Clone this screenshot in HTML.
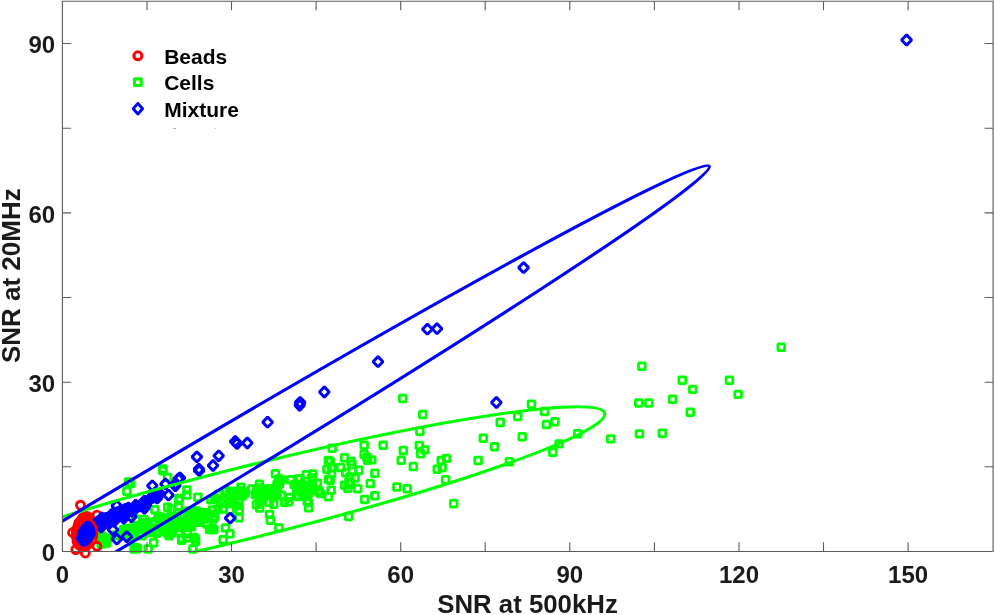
<!DOCTYPE html><html><head><meta charset="utf-8"><title>SNR scatter</title><style>html,body{margin:0;padding:0;background:#fff}svg{display:block}</style></head><body><svg width="994" height="615" viewBox="0 0 994 615">
<rect width="994" height="615" fill="#fff"/>
<defs><clipPath id="c"><rect x="62.4" y="1.2" width="930.9" height="550.3"/></clipPath></defs>
<g>
<g fill="none" stroke="#00ff00" stroke-width="2.75" stroke-linejoin="bevel">
<rect x="777.9" y="343.9" width="6.7" height="6.7"/>
<rect x="638.5" y="362.9" width="6.7" height="6.7"/>
<rect x="678.9" y="376.8" width="6.7" height="6.7"/>
<rect x="689.4" y="386.0" width="6.7" height="6.7"/>
<rect x="726.1" y="376.8" width="6.7" height="6.7"/>
<rect x="734.8" y="391.0" width="6.7" height="6.7"/>
<rect x="669.2" y="395.8" width="6.7" height="6.7"/>
<rect x="635.4" y="399.6" width="6.7" height="6.7"/>
<rect x="645.5" y="399.6" width="6.7" height="6.7"/>
<rect x="686.9" y="408.9" width="6.7" height="6.7"/>
<rect x="636.1" y="430.5" width="6.7" height="6.7"/>
<rect x="659.0" y="429.8" width="6.7" height="6.7"/>
<rect x="607.4" y="435.5" width="6.7" height="6.7"/>
<rect x="528.1" y="400.8" width="6.7" height="6.7"/>
<rect x="541.2" y="408.2" width="6.7" height="6.7"/>
<rect x="514.4" y="413.2" width="6.7" height="6.7"/>
<rect x="496.9" y="419.1" width="6.7" height="6.7"/>
<rect x="551.6" y="418.4" width="6.7" height="6.7"/>
<rect x="543.2" y="421.2" width="6.7" height="6.7"/>
<rect x="518.9" y="433.4" width="6.7" height="6.7"/>
<rect x="480.0" y="434.8" width="6.7" height="6.7"/>
<rect x="491.2" y="443.3" width="6.7" height="6.7"/>
<rect x="574.4" y="430.3" width="6.7" height="6.7"/>
<rect x="555.8" y="440.5" width="6.7" height="6.7"/>
<rect x="549.5" y="448.8" width="6.7" height="6.7"/>
<rect x="474.8" y="457.1" width="6.7" height="6.7"/>
<rect x="506.0" y="458.4" width="6.7" height="6.7"/>
<rect x="443.1" y="455.0" width="6.7" height="6.7"/>
<rect x="437.9" y="457.1" width="6.7" height="6.7"/>
<rect x="438.8" y="464.1" width="6.7" height="6.7"/>
<rect x="442.3" y="476.4" width="6.7" height="6.7"/>
<rect x="450.4" y="500.3" width="6.7" height="6.7"/>
<rect x="399.4" y="395.1" width="6.7" height="6.7"/>
<rect x="419.4" y="411.2" width="6.7" height="6.7"/>
<rect x="416.5" y="427.8" width="6.7" height="6.7"/>
<rect x="328.9" y="444.9" width="6.7" height="6.7"/>
<rect x="360.8" y="441.8" width="6.7" height="6.7"/>
<rect x="379.8" y="441.8" width="6.7" height="6.7"/>
<rect x="400.0" y="447.2" width="6.7" height="6.7"/>
<rect x="416.0" y="442.0" width="6.7" height="6.7"/>
<rect x="421.4" y="446.5" width="6.7" height="6.7"/>
<rect x="417.3" y="450.3" width="6.7" height="6.7"/>
<rect x="397.9" y="456.9" width="6.7" height="6.7"/>
<rect x="410.0" y="463.2" width="6.7" height="6.7"/>
<rect x="433.9" y="465.9" width="6.7" height="6.7"/>
<rect x="393.6" y="483.6" width="6.7" height="6.7"/>
<rect x="403.8" y="485.4" width="6.7" height="6.7"/>
<rect x="371.5" y="469.8" width="6.7" height="6.7"/>
<rect x="366.9" y="480.2" width="6.7" height="6.7"/>
<rect x="371.5" y="492.3" width="6.7" height="6.7"/>
<rect x="361.3" y="496.1" width="6.7" height="6.7"/>
<rect x="345.3" y="513.1" width="6.7" height="6.7"/>
<rect x="360.8" y="451.1" width="6.7" height="6.7"/>
<rect x="363.6" y="454.2" width="6.7" height="6.7"/>
<rect x="368.4" y="456.5" width="6.7" height="6.7"/>
<rect x="364.2" y="456.9" width="6.7" height="6.7"/>
<rect x="341.3" y="454.4" width="6.7" height="6.7"/>
<rect x="347.6" y="458.0" width="6.7" height="6.7"/>
<rect x="348.6" y="461.1" width="6.7" height="6.7"/>
<rect x="355.5" y="466.8" width="6.7" height="6.7"/>
<rect x="326.8" y="458.4" width="6.7" height="6.7"/>
<rect x="323.6" y="465.9" width="6.7" height="6.7"/>
<rect x="328.2" y="464.2" width="6.7" height="6.7"/>
<rect x="337.2" y="464.2" width="6.7" height="6.7"/>
<rect x="309.5" y="470.5" width="6.7" height="6.7"/>
<rect x="328.2" y="470.5" width="6.7" height="6.7"/>
<rect x="326.8" y="476.8" width="6.7" height="6.7"/>
<rect x="342.4" y="469.4" width="6.7" height="6.7"/>
<rect x="346.5" y="473.6" width="6.7" height="6.7"/>
<rect x="351.8" y="474.6" width="6.7" height="6.7"/>
<rect x="345.5" y="478.8" width="6.7" height="6.7"/>
<rect x="341.3" y="481.9" width="6.7" height="6.7"/>
<rect x="347.6" y="480.9" width="6.7" height="6.7"/>
<rect x="344.5" y="485.0" width="6.7" height="6.7"/>
<rect x="354.4" y="485.4" width="6.7" height="6.7"/>
<rect x="327.8" y="486.8" width="6.7" height="6.7"/>
<rect x="325.1" y="493.4" width="6.7" height="6.7"/>
<rect x="309.5" y="479.8" width="6.7" height="6.7"/>
<rect x="315.3" y="487.1" width="6.7" height="6.7"/>
<rect x="317.0" y="490.2" width="6.7" height="6.7"/>
<rect x="296.6" y="475.6" width="6.7" height="6.7"/>
<rect x="298.6" y="480.9" width="6.7" height="6.7"/>
<rect x="297.6" y="488.2" width="6.7" height="6.7"/>
<rect x="299.6" y="492.3" width="6.7" height="6.7"/>
<rect x="303.9" y="498.1" width="6.7" height="6.7"/>
<rect x="305.3" y="504.4" width="6.7" height="6.7"/>
<rect x="183.5" y="486.5" width="6.7" height="6.7"/>
<rect x="183.5" y="491.6" width="6.7" height="6.7"/>
<rect x="272.1" y="470.4" width="6.7" height="6.7"/>
<rect x="275.5" y="475.5" width="6.7" height="6.7"/>
<rect x="237.6" y="483.9" width="6.7" height="6.7"/>
<rect x="256.1" y="480.9" width="6.7" height="6.7"/>
<rect x="235.8" y="502.5" width="6.7" height="6.7"/>
<rect x="235.8" y="514.4" width="6.7" height="6.7"/>
<rect x="270.4" y="500.8" width="6.7" height="6.7"/>
<rect x="266.2" y="511.0" width="6.7" height="6.7"/>
<rect x="267.0" y="516.9" width="6.7" height="6.7"/>
<rect x="275.5" y="524.5" width="6.7" height="6.7"/>
<rect x="285.6" y="498.3" width="6.7" height="6.7"/>
<rect x="287.3" y="476.3" width="6.7" height="6.7"/>
<rect x="294.9" y="475.5" width="6.7" height="6.7"/>
<rect x="305.1" y="499.2" width="6.7" height="6.7"/>
<rect x="222.2" y="524.5" width="6.7" height="6.7"/>
<rect x="226.6" y="530.4" width="6.7" height="6.7"/>
<rect x="219.8" y="536.4" width="6.7" height="6.7"/>
<rect x="206.2" y="526.2" width="6.7" height="6.7"/>
<rect x="210.5" y="526.2" width="6.7" height="6.7"/>
<rect x="191.8" y="535.5" width="6.7" height="6.7"/>
<rect x="183.5" y="534.6" width="6.7" height="6.7"/>
<rect x="159.5" y="465.5" width="6.7" height="6.7"/>
<rect x="164.3" y="474.0" width="6.7" height="6.7"/>
<rect x="127.3" y="480.1" width="6.7" height="6.7"/>
<rect x="123.5" y="487.8" width="6.7" height="6.7"/>
<rect x="125.2" y="478.5" width="6.7" height="6.7"/>
<rect x="159.5" y="467.3" width="6.7" height="6.7"/>
<rect x="175.6" y="496.8" width="6.7" height="6.7"/>
<rect x="164.3" y="503.8" width="6.7" height="6.7"/>
<rect x="194.5" y="493.9" width="6.7" height="6.7"/>
<rect x="150.3" y="539.4" width="6.7" height="6.7"/>
<rect x="144.8" y="545.6" width="6.7" height="6.7"/>
<rect x="192.3" y="537.9" width="6.7" height="6.7"/>
<rect x="189.6" y="545.6" width="6.7" height="6.7"/>
<rect x="132.2" y="544.2" width="6.7" height="6.7"/>
<rect x="130.7" y="545.6" width="6.7" height="6.7"/>
<rect x="134.2" y="545.1" width="6.7" height="6.7"/>
<rect x="101.5" y="537.9" width="6.7" height="6.7"/>
<rect x="99.7" y="536.1" width="6.7" height="6.7"/>
<rect x="103.2" y="539.6" width="6.7" height="6.7"/>
<rect x="99.2" y="540.1" width="6.7" height="6.7"/>
<rect x="103.7" y="536.1" width="6.7" height="6.7"/>
<rect x="207.8" y="526.0" width="6.7" height="6.7"/>
<rect x="178.3" y="535.1" width="6.7" height="6.7"/>
<rect x="165.8" y="532.4" width="6.7" height="6.7"/>
<rect x="153.2" y="528.1" width="6.7" height="6.7"/>
<rect x="138.6" y="532.4" width="6.7" height="6.7"/>
<rect x="178.3" y="536.8" width="6.7" height="6.7"/>
<rect x="183.8" y="530.4" width="6.7" height="6.7"/>
<rect x="175.7" y="495.1" width="6.7" height="6.7"/>
<rect x="315.9" y="488.8" width="6.7" height="6.7"/>
<rect x="325.0" y="457.0" width="6.7" height="6.7"/>
<rect x="325.0" y="476.0" width="6.7" height="6.7"/>
<rect x="132.4" y="515.5" width="6.7" height="6.7"/>
<rect x="196.8" y="508.8" width="6.7" height="6.7"/>
<rect x="133.1" y="524.7" width="6.7" height="6.7"/>
<rect x="167.8" y="516.4" width="6.7" height="6.7"/>
<rect x="190.8" y="534.0" width="6.7" height="6.7"/>
<rect x="159.9" y="517.1" width="6.7" height="6.7"/>
<rect x="163.4" y="514.7" width="6.7" height="6.7"/>
<rect x="191.1" y="511.4" width="6.7" height="6.7"/>
<rect x="150.2" y="520.0" width="6.7" height="6.7"/>
<rect x="187.3" y="513.2" width="6.7" height="6.7"/>
<rect x="124.8" y="533.0" width="6.7" height="6.7"/>
<rect x="151.5" y="518.3" width="6.7" height="6.7"/>
<rect x="204.9" y="513.6" width="6.7" height="6.7"/>
<rect x="167.1" y="516.3" width="6.7" height="6.7"/>
<rect x="127.4" y="530.6" width="6.7" height="6.7"/>
<rect x="158.3" y="514.1" width="6.7" height="6.7"/>
<rect x="184.1" y="520.2" width="6.7" height="6.7"/>
<rect x="143.3" y="523.4" width="6.7" height="6.7"/>
<rect x="151.5" y="506.3" width="6.7" height="6.7"/>
<rect x="189.6" y="508.2" width="6.7" height="6.7"/>
<rect x="199.3" y="513.4" width="6.7" height="6.7"/>
<rect x="186.1" y="511.9" width="6.7" height="6.7"/>
<rect x="163.2" y="518.7" width="6.7" height="6.7"/>
<rect x="203.7" y="519.4" width="6.7" height="6.7"/>
<rect x="201.1" y="512.4" width="6.7" height="6.7"/>
<rect x="167.8" y="516.6" width="6.7" height="6.7"/>
<rect x="187.5" y="517.9" width="6.7" height="6.7"/>
<rect x="203.1" y="509.3" width="6.7" height="6.7"/>
<rect x="175.2" y="517.8" width="6.7" height="6.7"/>
<rect x="179.8" y="519.8" width="6.7" height="6.7"/>
<rect x="140.9" y="516.2" width="6.7" height="6.7"/>
<rect x="192.4" y="507.6" width="6.7" height="6.7"/>
<rect x="207.5" y="496.5" width="6.7" height="6.7"/>
<rect x="201.2" y="515.6" width="6.7" height="6.7"/>
<rect x="211.4" y="494.6" width="6.7" height="6.7"/>
<rect x="195.5" y="514.7" width="6.7" height="6.7"/>
<rect x="129.5" y="532.5" width="6.7" height="6.7"/>
<rect x="132.3" y="527.2" width="6.7" height="6.7"/>
<rect x="143.9" y="529.5" width="6.7" height="6.7"/>
<rect x="136.1" y="523.2" width="6.7" height="6.7"/>
<rect x="169.0" y="527.1" width="6.7" height="6.7"/>
<rect x="211.5" y="513.3" width="6.7" height="6.7"/>
<rect x="143.9" y="524.5" width="6.7" height="6.7"/>
<rect x="188.2" y="509.4" width="6.7" height="6.7"/>
<rect x="185.8" y="522.9" width="6.7" height="6.7"/>
<rect x="177.7" y="512.5" width="6.7" height="6.7"/>
<rect x="184.9" y="516.2" width="6.7" height="6.7"/>
<rect x="174.6" y="509.3" width="6.7" height="6.7"/>
<rect x="169.2" y="517.5" width="6.7" height="6.7"/>
<rect x="167.9" y="522.0" width="6.7" height="6.7"/>
<rect x="194.3" y="511.0" width="6.7" height="6.7"/>
<rect x="126.4" y="526.3" width="6.7" height="6.7"/>
<rect x="143.1" y="519.3" width="6.7" height="6.7"/>
<rect x="159.6" y="518.5" width="6.7" height="6.7"/>
<rect x="206.5" y="511.2" width="6.7" height="6.7"/>
<rect x="156.0" y="528.0" width="6.7" height="6.7"/>
<rect x="167.9" y="506.1" width="6.7" height="6.7"/>
<rect x="173.9" y="513.2" width="6.7" height="6.7"/>
<rect x="175.3" y="503.2" width="6.7" height="6.7"/>
<rect x="209.9" y="515.7" width="6.7" height="6.7"/>
<rect x="191.6" y="507.7" width="6.7" height="6.7"/>
<rect x="198.5" y="512.1" width="6.7" height="6.7"/>
<rect x="168.0" y="529.4" width="6.7" height="6.7"/>
<rect x="148.2" y="525.6" width="6.7" height="6.7"/>
<rect x="153.3" y="529.8" width="6.7" height="6.7"/>
<rect x="177.1" y="524.2" width="6.7" height="6.7"/>
<rect x="164.5" y="517.2" width="6.7" height="6.7"/>
<rect x="188.2" y="523.3" width="6.7" height="6.7"/>
<rect x="139.9" y="522.5" width="6.7" height="6.7"/>
<rect x="161.1" y="521.6" width="6.7" height="6.7"/>
<rect x="154.6" y="515.2" width="6.7" height="6.7"/>
<rect x="208.5" y="525.0" width="6.7" height="6.7"/>
<rect x="137.9" y="521.9" width="6.7" height="6.7"/>
<rect x="155.2" y="512.8" width="6.7" height="6.7"/>
<rect x="172.9" y="521.8" width="6.7" height="6.7"/>
<rect x="136.0" y="526.2" width="6.7" height="6.7"/>
<rect x="184.8" y="515.7" width="6.7" height="6.7"/>
<rect x="214.6" y="505.9" width="6.7" height="6.7"/>
<rect x="173.0" y="517.5" width="6.7" height="6.7"/>
<rect x="129.4" y="524.6" width="6.7" height="6.7"/>
<rect x="140.3" y="522.2" width="6.7" height="6.7"/>
<rect x="209.0" y="506.5" width="6.7" height="6.7"/>
<rect x="125.5" y="530.3" width="6.7" height="6.7"/>
<rect x="162.1" y="528.2" width="6.7" height="6.7"/>
<rect x="146.0" y="526.5" width="6.7" height="6.7"/>
<rect x="161.1" y="519.6" width="6.7" height="6.7"/>
<rect x="188.0" y="520.8" width="6.7" height="6.7"/>
<rect x="158.1" y="520.3" width="6.7" height="6.7"/>
<rect x="169.2" y="515.9" width="6.7" height="6.7"/>
<rect x="171.1" y="521.8" width="6.7" height="6.7"/>
<rect x="164.6" y="530.5" width="6.7" height="6.7"/>
<rect x="175.5" y="529.1" width="6.7" height="6.7"/>
<rect x="124.8" y="526.3" width="6.7" height="6.7"/>
<rect x="193.9" y="517.6" width="6.7" height="6.7"/>
<rect x="175.1" y="518.7" width="6.7" height="6.7"/>
<rect x="203.5" y="520.7" width="6.7" height="6.7"/>
<rect x="173.9" y="522.8" width="6.7" height="6.7"/>
<rect x="184.6" y="509.1" width="6.7" height="6.7"/>
<rect x="184.9" y="507.7" width="6.7" height="6.7"/>
<rect x="195.4" y="519.0" width="6.7" height="6.7"/>
<rect x="217.4" y="499.6" width="6.7" height="6.7"/>
<rect x="253.7" y="488.5" width="6.7" height="6.7"/>
<rect x="302.3" y="492.8" width="6.7" height="6.7"/>
<rect x="254.8" y="490.3" width="6.7" height="6.7"/>
<rect x="263.4" y="488.9" width="6.7" height="6.7"/>
<rect x="258.1" y="496.4" width="6.7" height="6.7"/>
<rect x="235.9" y="506.9" width="6.7" height="6.7"/>
<rect x="302.9" y="483.9" width="6.7" height="6.7"/>
<rect x="256.1" y="498.2" width="6.7" height="6.7"/>
<rect x="281.5" y="499.2" width="6.7" height="6.7"/>
<rect x="265.8" y="499.0" width="6.7" height="6.7"/>
<rect x="229.5" y="499.1" width="6.7" height="6.7"/>
<rect x="241.3" y="489.9" width="6.7" height="6.7"/>
<rect x="235.6" y="498.2" width="6.7" height="6.7"/>
<rect x="305.7" y="483.0" width="6.7" height="6.7"/>
<rect x="307.3" y="481.8" width="6.7" height="6.7"/>
<rect x="228.2" y="488.1" width="6.7" height="6.7"/>
<rect x="253.0" y="501.4" width="6.7" height="6.7"/>
<rect x="235.9" y="487.7" width="6.7" height="6.7"/>
<rect x="278.3" y="476.5" width="6.7" height="6.7"/>
<rect x="314.0" y="479.8" width="6.7" height="6.7"/>
<rect x="219.5" y="505.7" width="6.7" height="6.7"/>
<rect x="308.9" y="482.1" width="6.7" height="6.7"/>
<rect x="215.0" y="491.2" width="6.7" height="6.7"/>
<rect x="230.0" y="496.8" width="6.7" height="6.7"/>
<rect x="256.3" y="484.5" width="6.7" height="6.7"/>
<rect x="239.1" y="487.8" width="6.7" height="6.7"/>
<rect x="305.0" y="490.1" width="6.7" height="6.7"/>
<rect x="238.9" y="492.7" width="6.7" height="6.7"/>
<rect x="223.1" y="487.4" width="6.7" height="6.7"/>
<rect x="278.0" y="491.8" width="6.7" height="6.7"/>
<rect x="256.3" y="504.6" width="6.7" height="6.7"/>
<rect x="268.1" y="485.5" width="6.7" height="6.7"/>
<rect x="303.0" y="471.3" width="6.7" height="6.7"/>
<rect x="226.5" y="488.3" width="6.7" height="6.7"/>
<rect x="309.2" y="486.3" width="6.7" height="6.7"/>
<rect x="293.4" y="484.6" width="6.7" height="6.7"/>
<rect x="266.9" y="488.8" width="6.7" height="6.7"/>
<rect x="277.5" y="476.6" width="6.7" height="6.7"/>
<rect x="251.9" y="491.4" width="6.7" height="6.7"/>
<rect x="286.1" y="494.0" width="6.7" height="6.7"/>
<rect x="236.5" y="491.0" width="6.7" height="6.7"/>
<rect x="273.8" y="489.4" width="6.7" height="6.7"/>
<rect x="220.2" y="496.5" width="6.7" height="6.7"/>
<rect x="259.7" y="493.2" width="6.7" height="6.7"/>
<rect x="248.5" y="485.5" width="6.7" height="6.7"/>
<rect x="253.0" y="487.5" width="6.7" height="6.7"/>
<rect x="272.4" y="491.6" width="6.7" height="6.7"/>
<rect x="218.7" y="500.0" width="6.7" height="6.7"/>
<rect x="275.9" y="481.0" width="6.7" height="6.7"/>
<rect x="293.6" y="486.9" width="6.7" height="6.7"/>
<rect x="273.6" y="481.2" width="6.7" height="6.7"/>
<rect x="234.1" y="490.8" width="6.7" height="6.7"/>
<rect x="270.0" y="492.7" width="6.7" height="6.7"/>
<rect x="226.6" y="507.1" width="6.7" height="6.7"/>
<rect x="290.8" y="481.4" width="6.7" height="6.7"/>
<rect x="267.2" y="486.0" width="6.7" height="6.7"/>
<rect x="274.8" y="479.5" width="6.7" height="6.7"/>
<rect x="253.6" y="487.2" width="6.7" height="6.7"/>
<rect x="226.2" y="498.3" width="6.7" height="6.7"/>
<rect x="308.3" y="474.3" width="6.7" height="6.7"/>
<rect x="265.1" y="485.6" width="6.7" height="6.7"/>
<rect x="266.4" y="489.8" width="6.7" height="6.7"/>
<rect x="295.2" y="493.1" width="6.7" height="6.7"/>
<rect x="98.6" y="532.5" width="6.7" height="6.7"/>
<rect x="102.2" y="534.8" width="6.7" height="6.7"/>
<rect x="111.1" y="531.9" width="6.7" height="6.7"/>
<rect x="120.3" y="526.4" width="6.7" height="6.7"/>
<rect x="97.8" y="540.6" width="6.7" height="6.7"/>
<rect x="112.2" y="532.2" width="6.7" height="6.7"/>
<rect x="123.6" y="525.2" width="6.7" height="6.7"/>
<rect x="97.5" y="535.6" width="6.7" height="6.7"/>
<rect x="98.6" y="535.9" width="6.7" height="6.7"/>
<rect x="122.0" y="531.9" width="6.7" height="6.7"/>
<rect x="119.1" y="528.7" width="6.7" height="6.7"/>
<rect x="120.2" y="529.9" width="6.7" height="6.7"/>
</g>
<g fill="none" stroke="#ff0000" stroke-width="2.9">
<circle cx="85.7" cy="534.0" r="4.0"/>
<circle cx="84.2" cy="520.6" r="4.0"/>
<circle cx="86.3" cy="516.8" r="4.0"/>
<circle cx="77.3" cy="530.8" r="4.0"/>
<circle cx="82.0" cy="522.9" r="4.0"/>
<circle cx="76.5" cy="531.5" r="4.0"/>
<circle cx="80.5" cy="540.1" r="4.0"/>
<circle cx="77.8" cy="533.8" r="4.0"/>
<circle cx="89.8" cy="536.5" r="4.0"/>
<circle cx="88.9" cy="534.1" r="4.0"/>
<circle cx="78.3" cy="535.9" r="4.0"/>
<circle cx="79.4" cy="526.6" r="4.0"/>
<circle cx="88.8" cy="533.2" r="4.0"/>
<circle cx="85.2" cy="521.8" r="4.0"/>
<circle cx="88.3" cy="521.7" r="4.0"/>
<circle cx="79.1" cy="526.4" r="4.0"/>
<circle cx="84.9" cy="531.7" r="4.0"/>
<circle cx="85.8" cy="534.9" r="4.0"/>
<circle cx="84.5" cy="533.9" r="4.0"/>
<circle cx="87.5" cy="531.3" r="4.0"/>
<circle cx="76.7" cy="534.1" r="4.0"/>
<circle cx="80.3" cy="533.0" r="4.0"/>
<circle cx="81.9" cy="541.5" r="4.0"/>
<circle cx="81.3" cy="541.7" r="4.0"/>
<circle cx="82.2" cy="534.1" r="4.0"/>
<circle cx="91.2" cy="521.0" r="4.0"/>
<circle cx="82.3" cy="530.0" r="4.0"/>
<circle cx="89.1" cy="526.7" r="4.0"/>
<circle cx="80.8" cy="537.1" r="4.0"/>
<circle cx="91.1" cy="526.2" r="4.0"/>
<circle cx="81.8" cy="540.7" r="4.0"/>
<circle cx="79.5" cy="536.3" r="4.0"/>
<circle cx="82.3" cy="518.5" r="4.0"/>
<circle cx="91.0" cy="535.6" r="4.0"/>
<circle cx="87.3" cy="525.9" r="4.0"/>
<circle cx="92.1" cy="529.8" r="4.0"/>
<circle cx="84.6" cy="526.8" r="4.0"/>
<circle cx="77.3" cy="536.2" r="4.0"/>
<circle cx="82.7" cy="530.5" r="4.0"/>
<circle cx="86.0" cy="521.9" r="4.0"/>
<circle cx="84.2" cy="540.8" r="4.0"/>
<circle cx="87.5" cy="537.4" r="4.0"/>
<circle cx="92.2" cy="533.3" r="4.0"/>
<circle cx="86.6" cy="538.6" r="4.0"/>
<circle cx="81.5" cy="541.8" r="4.0"/>
<circle cx="78.9" cy="544.2" r="4.0"/>
<circle cx="85.8" cy="546.1" r="4.0"/>
<circle cx="77.1" cy="541.4" r="4.0"/>
<circle cx="82.8" cy="535.6" r="4.0"/>
<circle cx="86.6" cy="526.5" r="4.0"/>
<circle cx="85.8" cy="517.3" r="4.0"/>
<circle cx="84.3" cy="540.4" r="4.0"/>
<circle cx="78.2" cy="526.1" r="4.0"/>
<circle cx="88.9" cy="523.3" r="4.0"/>
<circle cx="78.5" cy="526.2" r="4.0"/>
<circle cx="87.3" cy="544.2" r="4.0"/>
<circle cx="87.6" cy="526.1" r="4.0"/>
<circle cx="80.8" cy="522.2" r="4.0"/>
<circle cx="83.5" cy="528.5" r="4.0"/>
<circle cx="87.6" cy="534.6" r="4.0"/>
<circle cx="88.0" cy="538.4" r="4.0"/>
<circle cx="85.3" cy="520.1" r="4.0"/>
<circle cx="89.8" cy="525.8" r="4.0"/>
<circle cx="81.5" cy="533.5" r="4.0"/>
<circle cx="91.1" cy="528.2" r="4.0"/>
<circle cx="92.3" cy="530.0" r="4.0"/>
<circle cx="89.0" cy="537.9" r="4.0"/>
<circle cx="77.3" cy="532.9" r="4.0"/>
<circle cx="90.2" cy="535.3" r="4.0"/>
<circle cx="81.4" cy="525.7" r="4.0"/>
<circle cx="88.0" cy="540.9" r="4.0"/>
<circle cx="88.5" cy="534.5" r="4.0"/>
<circle cx="88.6" cy="533.3" r="4.0"/>
<circle cx="83.0" cy="544.0" r="4.0"/>
<circle cx="83.1" cy="519.9" r="4.0"/>
<circle cx="77.7" cy="539.0" r="4.0"/>
<circle cx="82.4" cy="522.2" r="4.0"/>
<circle cx="87.6" cy="516.8" r="4.0"/>
<circle cx="76.4" cy="533.6" r="4.0"/>
<circle cx="81.7" cy="525.1" r="4.0"/>
<circle cx="77.8" cy="533.6" r="4.0"/>
<circle cx="79.7" cy="545.5" r="4.0"/>
<circle cx="78.7" cy="539.9" r="4.0"/>
<circle cx="90.3" cy="520.9" r="4.0"/>
<circle cx="82.7" cy="520.2" r="4.0"/>
<circle cx="86.1" cy="519.9" r="4.0"/>
<circle cx="76.8" cy="537.8" r="4.0"/>
<circle cx="85.4" cy="536.5" r="4.0"/>
<circle cx="82.1" cy="538.7" r="4.0"/>
<circle cx="90.4" cy="529.9" r="4.0"/>
<circle cx="89.8" cy="524.2" r="4.0"/>
<circle cx="84.2" cy="546.0" r="4.0"/>
<circle cx="86.9" cy="528.1" r="4.0"/>
<circle cx="86.4" cy="520.2" r="4.0"/>
<circle cx="85.4" cy="539.9" r="4.0"/>
<circle cx="84.9" cy="525.1" r="4.0"/>
<circle cx="80.7" cy="524.7" r="4.0"/>
<circle cx="81.2" cy="530.5" r="4.0"/>
<circle cx="88.3" cy="521.7" r="4.0"/>
<circle cx="83.4" cy="520.4" r="4.0"/>
<circle cx="80.0" cy="543.8" r="4.0"/>
<circle cx="77.2" cy="540.7" r="4.0"/>
<circle cx="80.8" cy="533.6" r="4.0"/>
<circle cx="79.2" cy="533.9" r="4.0"/>
<circle cx="88.9" cy="529.2" r="4.0"/>
<circle cx="85.6" cy="530.2" r="4.0"/>
<circle cx="86.5" cy="538.1" r="4.0"/>
<circle cx="85.5" cy="519.8" r="4.0"/>
<circle cx="79.3" cy="536.8" r="4.0"/>
<circle cx="87.2" cy="525.7" r="4.0"/>
<circle cx="86.6" cy="522.6" r="4.0"/>
<circle cx="83.4" cy="518.7" r="4.0"/>
<circle cx="80.9" cy="534.7" r="4.0"/>
<circle cx="83.7" cy="539.5" r="4.0"/>
<circle cx="88.0" cy="537.5" r="4.0"/>
<circle cx="82.2" cy="524.2" r="4.0"/>
<circle cx="92.4" cy="527.8" r="4.0"/>
<circle cx="87.2" cy="518.2" r="4.0"/>
<circle cx="80.2" cy="544.3" r="4.0"/>
<circle cx="85.4" cy="532.5" r="4.0"/>
<circle cx="88.1" cy="535.4" r="4.0"/>
<circle cx="84.5" cy="529.1" r="4.0"/>
<circle cx="78.8" cy="539.8" r="4.0"/>
<circle cx="89.0" cy="522.2" r="4.0"/>
<circle cx="83.9" cy="536.4" r="4.0"/>
<circle cx="77.3" cy="531.2" r="4.0"/>
<circle cx="88.8" cy="521.2" r="4.0"/>
<circle cx="84.9" cy="535.6" r="4.0"/>
<circle cx="88.1" cy="534.2" r="4.0"/>
<circle cx="81.5" cy="530.5" r="4.0"/>
<circle cx="81.8" cy="525.8" r="4.0"/>
<circle cx="87.2" cy="520.9" r="4.0"/>
<circle cx="85.8" cy="524.0" r="4.0"/>
<circle cx="78.3" cy="525.6" r="4.0"/>
<circle cx="91.9" cy="533.4" r="4.0"/>
<circle cx="78.7" cy="523.4" r="4.0"/>
<circle cx="81.9" cy="542.4" r="4.0"/>
<circle cx="83.2" cy="520.9" r="4.0"/>
<circle cx="80.2" cy="521.9" r="4.0"/>
<circle cx="86.6" cy="543.0" r="4.0"/>
<circle cx="76.6" cy="536.8" r="4.0"/>
<circle cx="89.8" cy="528.5" r="4.0"/>
<circle cx="78.3" cy="543.3" r="4.0"/>
<circle cx="91.6" cy="526.9" r="4.0"/>
<circle cx="91.8" cy="523.3" r="4.0"/>
<circle cx="79.5" cy="532.7" r="4.0"/>
<circle cx="88.9" cy="535.4" r="4.0"/>
<circle cx="84.2" cy="544.7" r="4.0"/>
<circle cx="79.6" cy="522.1" r="4.0"/>
<circle cx="83.8" cy="524.6" r="4.0"/>
<circle cx="79.5" cy="539.6" r="4.0"/>
<circle cx="77.3" cy="528.4" r="4.0"/>
<circle cx="82.1" cy="525.2" r="4.0"/>
<circle cx="82.1" cy="543.4" r="4.0"/>
<circle cx="88.4" cy="537.2" r="4.0"/>
<circle cx="91.6" cy="522.8" r="4.0"/>
<circle cx="79.4" cy="527.6" r="4.0"/>
<circle cx="80.1" cy="542.2" r="4.0"/>
<circle cx="77.8" cy="535.1" r="4.0"/>
<circle cx="91.5" cy="527.9" r="4.0"/>
<circle cx="86.0" cy="536.7" r="4.0"/>
<circle cx="83.2" cy="517.6" r="4.0"/>
<circle cx="79.4" cy="523.6" r="4.0"/>
<circle cx="82.8" cy="539.3" r="4.0"/>
<circle cx="92.0" cy="530.2" r="4.0"/>
<circle cx="77.0" cy="536.2" r="4.0"/>
<circle cx="81.3" cy="521.1" r="4.0"/>
<circle cx="79.6" cy="525.0" r="4.0"/>
<circle cx="89.7" cy="528.2" r="4.0"/>
<circle cx="85.6" cy="516.7" r="4.0"/>
<circle cx="80.5" cy="505.2" r="4.0"/>
<circle cx="97.0" cy="515.1" r="4.0"/>
<circle cx="72.6" cy="532.5" r="4.0"/>
<circle cx="75.8" cy="549.6" r="4.0"/>
<circle cx="85.3" cy="553.0" r="4.0"/>
<circle cx="96.9" cy="546.3" r="4.0"/>
</g>
</g>
<g fill="none" stroke="#0000ff" stroke-width="3.0" stroke-linejoin="bevel">
<path d="M901.6 40.0L906.6 34.9L911.6 40.0L906.6 45.1Z"/>
<path d="M518.6 267.6L523.6 262.5L528.6 267.6L523.6 272.8Z"/>
<path d="M422.4 329.2L427.4 324.1L432.3 329.2L427.4 334.3Z"/>
<path d="M432.1 328.7L437.0 323.6L441.9 328.7L437.0 333.8Z"/>
<path d="M373.1 361.7L378.0 356.6L382.9 361.7L378.0 366.8Z"/>
<path d="M319.4 392.0L324.3 386.9L329.2 392.0L324.3 397.1Z"/>
<path d="M295.2 402.4L300.1 397.2L305.1 402.4L300.1 407.5Z"/>
<path d="M294.7 405.3L299.6 400.2L304.6 405.3L299.6 410.4Z"/>
<path d="M262.7 422.2L267.6 417.1L272.6 422.2L267.6 427.3Z"/>
<path d="M242.4 443.0L247.3 437.9L252.2 443.0L247.3 448.1Z"/>
<path d="M230.2 441.5L235.2 436.4L240.1 441.5L235.2 446.6Z"/>
<path d="M232.1 443.5L237.0 438.4L241.9 443.5L237.0 448.6Z"/>
<path d="M213.8 455.8L218.7 450.7L223.6 455.8L218.7 460.9Z"/>
<path d="M208.1 465.5L213.0 460.4L217.9 465.5L213.0 470.6Z"/>
<path d="M192.0 456.9L196.9 451.8L201.8 456.9L196.9 462.0Z"/>
<path d="M194.0 469.1L198.9 464.0L203.8 469.1L198.9 474.2Z"/>
<path d="M175.1 478.0L180.0 472.9L184.9 478.0L180.0 483.1Z"/>
<path d="M225.2 518.1L230.2 513.0L235.1 518.1L230.2 523.2Z"/>
<path d="M491.4 402.5L496.4 397.4L501.3 402.5L496.4 407.6Z"/>
<path d="M111.8 505.9L116.8 500.8L121.8 505.9L116.8 511.0Z"/>
<path d="M147.4 485.8L152.3 480.7L157.2 485.8L152.3 490.9Z"/>
<path d="M173.6 478.9L178.5 473.8L183.4 478.9L178.5 484.0Z"/>
<path d="M170.5 485.8L175.4 480.7L180.3 485.8L175.4 490.9Z"/>
<path d="M163.6 495.1L168.5 490.0L173.4 495.1L168.5 500.2Z"/>
<path d="M139.6 508.2L144.5 503.1L149.4 508.2L144.5 513.4Z"/>
<path d="M126.5 516.7L131.4 511.6L136.3 516.7L131.4 521.9Z"/>
<path d="M111.8 539.1L116.8 534.0L121.8 539.1L116.8 544.2Z"/>
<path d="M121.8 536.8L126.8 531.6L131.8 536.8L126.8 541.9Z"/>
<path d="M108.0 529.8L112.9 524.6L117.9 529.8L112.9 534.9Z"/>
<path d="M170.5 484.0L175.4 478.9L180.3 484.0L175.4 489.1Z"/>
<path d="M118.8 518.3L123.7 513.1L128.7 518.3L123.7 523.4Z"/>
<path d="M194.2 470.7L199.2 465.6L204.1 470.7L199.2 475.8Z"/>
<path d="M160.5 484.0L165.4 478.9L170.3 484.0L165.4 489.1Z"/>
<path d="M155.1 494.0L160.0 488.9L164.9 494.0L160.0 499.1Z"/>
<path d="M147.8 497.6L152.7 492.5L157.6 497.6L152.7 502.8Z"/>
<path d="M136.4 504.6L141.4 499.4L146.3 504.6L141.4 509.7Z"/>
<path d="M129.5 509.6L134.4 504.5L139.4 509.6L134.4 514.8Z"/>
<path d="M115.0 514.7L120.0 509.5L124.9 514.7L120.0 519.8Z"/>
<path d="M107.4 520.1L112.4 515.0L117.3 520.1L112.4 525.3Z"/>
<path d="M97.6 523.0L102.5 517.8L107.5 523.0L102.5 528.1Z"/>
<path d="M118.2 511.5L123.1 506.4L128.1 511.5L123.1 516.7Z"/>
<path d="M98.4 518.8L103.3 513.7L108.3 518.8L103.3 524.0Z"/>
<path d="M126.7 511.3L131.7 506.2L136.6 511.3L131.7 516.5Z"/>
<path d="M128.4 509.5L133.3 504.3L138.3 509.5L133.3 514.6Z"/>
<path d="M116.0 510.5L120.9 505.3L125.9 510.5L120.9 515.6Z"/>
<path d="M131.0 506.9L136.0 501.8L140.9 506.9L136.0 512.1Z"/>
<path d="M120.3 509.2L125.2 504.0L130.2 509.2L125.2 514.3Z"/>
<path d="M123.5 508.1L128.4 502.9L133.4 508.1L128.4 513.2Z"/>
<path d="M135.6 506.1L140.5 500.9L145.5 506.1L140.5 511.2Z"/>
<path d="M112.2 517.5L117.2 512.4L122.1 517.5L117.2 522.7Z"/>
<path d="M98.9 523.1L103.8 517.9L108.8 523.1L103.8 528.2Z"/>
<path d="M93.9 522.3L98.9 517.1L103.8 522.3L98.9 527.4Z"/>
<path d="M101.1 518.1L106.0 513.0L111.0 518.1L106.0 523.3Z"/>
<path d="M106.8 514.3L111.7 509.2L116.7 514.3L111.7 519.5Z"/>
<path d="M92.4 523.4L97.4 518.2L102.3 523.4L97.4 528.5Z"/>
<path d="M137.5 505.2L142.5 500.1L147.4 505.2L142.5 510.4Z"/>
<path d="M107.3 515.5L112.3 510.4L117.2 515.5L112.3 520.7Z"/>
<path d="M95.0 523.5L100.0 518.4L104.9 523.5L100.0 528.7Z"/>
<path d="M118.5 515.3L123.5 510.2L128.4 515.3L123.5 520.5Z"/>
<path d="M108.9 521.4L113.9 516.2L118.8 521.4L113.9 526.5Z"/>
<path d="M127.1 511.0L132.1 505.8L137.0 511.0L132.1 516.1Z"/>
<path d="M103.0 520.5L108.0 515.4L112.9 520.5L108.0 525.7Z"/>
<path d="M96.3 525.1L101.3 519.9L106.2 525.1L101.3 530.2Z"/>
<path d="M92.8 524.9L97.8 519.7L102.7 524.9L97.8 530.0Z"/>
<path d="M96.4 523.8L101.4 518.6L106.3 523.8L101.4 528.9Z"/>
<path d="M97.0 518.0L102.0 512.9L106.9 518.0L102.0 523.2Z"/>
<path d="M107.0 518.1L112.0 512.9L116.9 518.1L112.0 523.2Z"/>
<path d="M112.8 512.4L117.7 507.3L122.7 512.4L117.7 517.6Z"/>
<path d="M110.6 515.0L115.6 509.9L120.5 515.0L115.6 520.2Z"/>
<path d="M93.8 523.8L98.8 518.7L103.7 523.8L98.8 529.0Z"/>
<path d="M119.2 511.0L124.2 505.8L129.1 511.0L124.2 516.1Z"/>
<path d="M121.7 513.2L126.7 508.1L131.6 513.2L126.7 518.4Z"/>
<path d="M92.2 522.0L97.2 516.9L102.1 522.0L97.2 527.2Z"/>
<path d="M101.0 523.0L105.9 517.9L110.9 523.0L105.9 528.2Z"/>
<path d="M110.1 517.9L115.1 512.7L120.0 517.9L115.1 523.0Z"/>
<path d="M93.6 522.5L98.6 517.3L103.5 522.5L98.6 527.6Z"/>
<path d="M96.3 526.9L101.3 521.8L106.2 526.9L101.3 532.1Z"/>
<path d="M120.1 510.6L125.0 505.4L130.0 510.6L125.0 515.7Z"/>
<path d="M130.8 505.2L135.7 500.0L140.7 505.2L135.7 510.3Z"/>
<path d="M92.3 523.9L97.2 518.8L102.2 523.9L97.2 529.1Z"/>
<path d="M119.3 515.7L124.2 510.6L129.2 515.7L124.2 520.9Z"/>
<path d="M111.2 513.2L116.1 508.1L121.1 513.2L116.1 518.4Z"/>
<path d="M148.2 495.9L153.2 490.8L158.1 495.9L153.2 501.1Z"/>
<path d="M152.0 495.3L156.9 490.2L161.9 495.3L156.9 500.5Z"/>
<path d="M139.8 501.3L144.7 496.1L149.7 501.3L144.7 506.4Z"/>
<path d="M152.1 498.2L157.1 493.0L162.0 498.2L157.1 503.3Z"/>
<path d="M141.2 504.7L146.1 499.6L151.1 504.7L146.1 509.9Z"/>
<path d="M152.7 495.0L157.6 489.8L162.6 495.0L157.6 500.1Z"/>
<path d="M138.9 501.8L143.9 496.6L148.8 501.8L143.9 506.9Z"/>
<path d="M145.5 498.4L150.4 493.2L155.4 498.4L150.4 503.5Z"/>
<path d="M81.1 537.9L86.0 532.8L91.0 537.9L86.0 543.1Z"/>
<path d="M82.1 533.3L87.0 528.1L92.0 533.3L87.0 538.4Z"/>
<path d="M84.2 531.9L89.1 526.8L94.1 531.9L89.1 537.1Z"/>
<path d="M82.6 528.9L87.5 523.7L92.5 528.9L87.5 534.0Z"/>
<path d="M83.1 533.2L88.0 528.1L93.0 533.2L88.0 538.4Z"/>
<path d="M79.6 539.7L84.6 534.6L89.5 539.7L84.6 544.9Z"/>
<path d="M79.1 534.1L84.1 528.9L89.0 534.1L84.1 539.2Z"/>
<path d="M80.3 536.4L85.2 531.3L90.2 536.4L85.2 541.6Z"/>
<path d="M77.8 534.2L82.8 529.1L87.7 534.2L82.8 539.4Z"/>
<path d="M83.9 530.7L88.9 525.5L93.8 530.7L88.9 535.8Z"/>
<path d="M85.2 533.3L90.2 528.2L95.1 533.3L90.2 538.5Z"/>
<path d="M80.0 536.7L85.0 531.5L89.9 536.7L85.0 541.8Z"/>
<path d="M84.9 528.0L89.9 522.8L94.8 528.0L89.9 533.1Z"/>
<path d="M80.7 528.3L85.7 523.1L90.6 528.3L85.7 533.4Z"/>
<path d="M78.3 535.1L83.3 529.9L88.2 535.1L83.3 540.2Z"/>
<path d="M82.7 536.4L87.7 531.2L92.6 536.4L87.7 541.5Z"/>
<path d="M82.6 533.2L87.6 528.0L92.5 533.2L87.6 538.3Z"/>
<path d="M81.4 535.4L86.4 530.2L91.3 535.4L86.4 540.5Z"/>
<path d="M78.3 534.5L83.2 529.3L88.2 534.5L83.2 539.6Z"/>
<path d="M78.2 532.9L83.1 527.7L88.1 532.9L83.1 538.0Z"/>
<path d="M81.5 528.8L86.5 523.7L91.4 528.8L86.5 534.0Z"/>
<path d="M80.0 531.0L85.0 525.9L89.9 531.0L85.0 536.2Z"/>
<path d="M82.0 535.4L87.0 530.2L91.9 535.4L87.0 540.5Z"/>
<path d="M80.9 531.5L85.9 526.4L90.8 531.5L85.9 536.7Z"/>
<path d="M77.7 537.4L82.7 532.2L87.6 537.4L82.7 542.5Z"/>
<path d="M80.3 532.1L85.3 526.9L90.2 532.1L85.3 537.2Z"/>
<path d="M80.3 537.1L85.3 532.0L90.2 537.1L85.3 542.3Z"/>
<path d="M81.1 528.8L86.1 523.7L91.0 528.8L86.1 534.0Z"/>
<path d="M81.8 537.2L86.7 532.1L91.7 537.2L86.7 542.4Z"/>
<path d="M81.7 539.1L86.6 533.9L91.6 539.1L86.6 544.2Z"/>
<path d="M78.3 541.1L83.3 535.9L88.2 541.1L83.3 546.2Z"/>
<path d="M79.2 540.4L84.2 535.2L89.1 540.4L84.2 545.5Z"/>
<path d="M80.4 528.7L85.3 523.6L90.3 528.7L85.3 533.9Z"/>
<path d="M82.7 527.1L87.6 521.9L92.6 527.1L87.6 532.2Z"/>
<path d="M81.1 534.1L86.1 528.9L91.0 534.1L86.1 539.2Z"/>
<path d="M78.1 540.1L83.1 535.0L88.0 540.1L83.1 545.3Z"/>
<path d="M78.1 539.4L83.1 534.3L88.0 539.4L83.1 544.6Z"/>
<path d="M82.4 538.4L87.3 533.3L92.3 538.4L87.3 543.6Z"/>
<path d="M77.1 539.2L82.1 534.0L87.0 539.2L82.1 544.3Z"/>
<path d="M82.8 536.3L87.7 531.1L92.7 536.3L87.7 541.4Z"/>
<path d="M82.8 529.6L87.8 524.4L92.7 529.6L87.8 534.7Z"/>
<path d="M78.8 535.3L83.8 530.2L88.7 535.3L83.8 540.5Z"/>
<path d="M82.3 536.8L87.3 531.6L92.2 536.8L87.3 541.9Z"/>
<path d="M84.9 529.6L89.9 524.5L94.8 529.6L89.9 534.8Z"/>
<path d="M78.5 540.1L83.4 534.9L88.4 540.1L83.4 545.2Z"/>
<path d="M84.0 527.8L89.0 522.6L93.9 527.8L89.0 532.9Z"/>
<path d="M82.4 535.3L87.4 530.2L92.3 535.3L87.4 540.5Z"/>
<path d="M83.5 533.2L88.4 528.1L93.4 533.2L88.4 538.4Z"/>
<path d="M83.5 528.4L88.4 523.2L93.4 528.4L88.4 533.5Z"/>
<path d="M82.4 532.8L87.4 527.6L92.3 532.8L87.4 537.9Z"/>
<path d="M85.3 531.4L90.3 526.3L95.2 531.4L90.3 536.6Z"/>
<path d="M79.7 540.7L84.6 535.5L89.6 540.7L84.6 545.8Z"/>
<path d="M84.7 534.6L89.7 529.4L94.6 534.6L89.7 539.7Z"/>
<path d="M77.5 537.6L82.5 532.5L87.4 537.6L82.5 542.8Z"/>
<path d="M81.8 533.1L86.7 528.0L91.7 533.1L86.7 538.3Z"/>
<path d="M82.6 532.6L87.6 527.5L92.5 532.6L87.6 537.8Z"/>
<path d="M81.5 538.5L86.5 533.4L91.4 538.5L86.5 543.7Z"/>
<path d="M79.5 540.4L84.4 535.3L89.4 540.4L84.4 545.6Z"/>
<path d="M80.8 539.9L85.7 534.7L90.7 539.9L85.7 545.0Z"/>
<path d="M83.6 526.9L88.6 521.7L93.5 526.9L88.6 532.0Z"/>
<path d="M78.9 536.7L83.9 531.6L88.8 536.7L83.9 541.9Z"/>
<path d="M79.3 531.4L84.3 526.3L89.2 531.4L84.3 536.6Z"/>
<path d="M84.6 531.6L89.5 526.4L94.5 531.6L89.5 536.7Z"/>
<path d="M78.9 535.9L83.8 530.7L88.8 535.9L83.8 541.0Z"/>
<path d="M82.5 528.3L87.4 523.2L92.4 528.3L87.4 533.5Z"/>
<path d="M82.6 536.1L87.6 531.0L92.5 536.1L87.6 541.3Z"/>
<path d="M81.3 538.9L86.2 533.8L91.2 538.9L86.2 544.1Z"/>
<path d="M79.6 536.4L84.5 531.2L89.5 536.4L84.5 541.5Z"/>
<path d="M78.5 533.1L83.5 528.0L88.4 533.1L83.5 538.3Z"/>
<path d="M77.7 540.1L82.7 535.0L87.6 540.1L82.7 545.3Z"/>
</g>
<g clip-path="url(#c)">
<ellipse cx="85.5" cy="533.5" rx="11.5" ry="15.0" transform="rotate(0.00 85.5 533.5)" fill="none" stroke="#ff0000" stroke-width="2.6"/>
<ellipse cx="249.8" cy="501.9" rx="365.8" ry="35.7" transform="rotate(-14.02 249.8 501.9)" fill="none" stroke="#00ff00" stroke-width="3.1"/>
<ellipse cx="108.3" cy="525.0" rx="699.9" ry="26.9" transform="rotate(-30.83 108.3 525.0)" fill="none" stroke="#0000ff" stroke-width="3.1"/>
</g>
<g stroke="#5c5c5c" stroke-width="1.1" fill="none">
<path d="M993.3 1.2H62.4V551.5H993.3"/>
<path d="M993.15 0.6V552" stroke="#909090" stroke-width="1.7"/>
<path d="M147.0 551.5v-9.2M147.0 1.2v9.0"/>
<path d="M231.5 551.5v-9.2M231.5 1.2v9.0"/>
<path d="M316.1 551.5v-9.2M316.1 1.2v9.0"/>
<path d="M400.7 551.5v-9.2M400.7 1.2v9.0"/>
<path d="M485.2 551.5v-9.2M485.2 1.2v9.0"/>
<path d="M569.8 551.5v-9.2M569.8 1.2v9.0"/>
<path d="M654.4 551.5v-9.2M654.4 1.2v9.0"/>
<path d="M739.0 551.5v-9.2M739.0 1.2v9.0"/>
<path d="M823.5 551.5v-9.2M823.5 1.2v9.0"/>
<path d="M908.1 551.5v-9.2M908.1 1.2v9.0"/>
<path d="M62.4 466.8h8.7M993.3 466.8h-8.7"/>
<path d="M62.4 382.2h8.7M993.3 382.2h-8.7"/>
<path d="M62.4 297.5h8.7M993.3 297.5h-8.7"/>
<path d="M62.4 212.9h8.7M993.3 212.9h-8.7"/>
<path d="M62.4 128.2h8.7M993.3 128.2h-8.7"/>
<path d="M62.4 43.5h8.7M993.3 43.5h-8.7"/>
</g>
<g font-family="Liberation Sans, Arial, Helvetica, sans-serif" font-weight="bold" font-size="24" fill="#1a1a1a" text-anchor="middle">
<text x="62.4" y="582.8">0</text>
<text x="231.5" y="582.8">30</text>
<text x="400.7" y="582.8">60</text>
<text x="569.8" y="582.8">90</text>
<text x="739.0" y="582.8">120</text>
<text x="908.1" y="582.8">150</text>
</g>
<g font-family="Liberation Sans, Arial, Helvetica, sans-serif" font-weight="bold" font-size="24" fill="#1a1a1a" text-anchor="end">
<text x="55.2" y="561.3">0</text>
<text x="55.2" y="392.0">30</text>
<text x="55.2" y="222.7">60</text>
<text x="55.2" y="53.3">90</text>
</g>
<text font-family="Liberation Sans, Arial, Helvetica, sans-serif" font-weight="bold" font-size="25" fill="#1a1a1a" textLength="180.6" lengthAdjust="spacingAndGlyphs" x="437.2" y="613.2">SNR at 500kHz</text>
<text font-family="Liberation Sans, Arial, Helvetica, sans-serif" font-weight="bold" font-size="25" fill="#1a1a1a" textLength="174.8" lengthAdjust="spacingAndGlyphs" transform="translate(19.6 363.1) rotate(-90)">SNR at 20MHz</text>
<g font-family="Liberation Sans, Arial, Helvetica, sans-serif" font-weight="bold" font-size="21" fill="#000">
<text x="164.2" y="63.5">Beads</text><text x="164.2" y="90.0">Cells</text><text x="164.2" y="116.6">Mixture</text></g>
<circle cx="137.9" cy="55.8" r="4.0" fill="none" stroke="#ff0000" stroke-width="3.1"/>
<rect x="134.55" y="78.85" width="6.7" height="6.7" fill="none" stroke="#00ff00" stroke-width="3.1" stroke-linejoin="round"/>
<path d="M133.2 108.7L137.9 103.4L142.6 108.7L137.9 114Z" fill="none" stroke="#0000ff" stroke-width="2.9" stroke-linejoin="round"/>
<rect x="173.3" y="128" width="2.4" height="0.8" fill="#888"/><rect x="214.7" y="128" width="1" height="0.8" fill="#aaa"/>
</svg></body></html>
